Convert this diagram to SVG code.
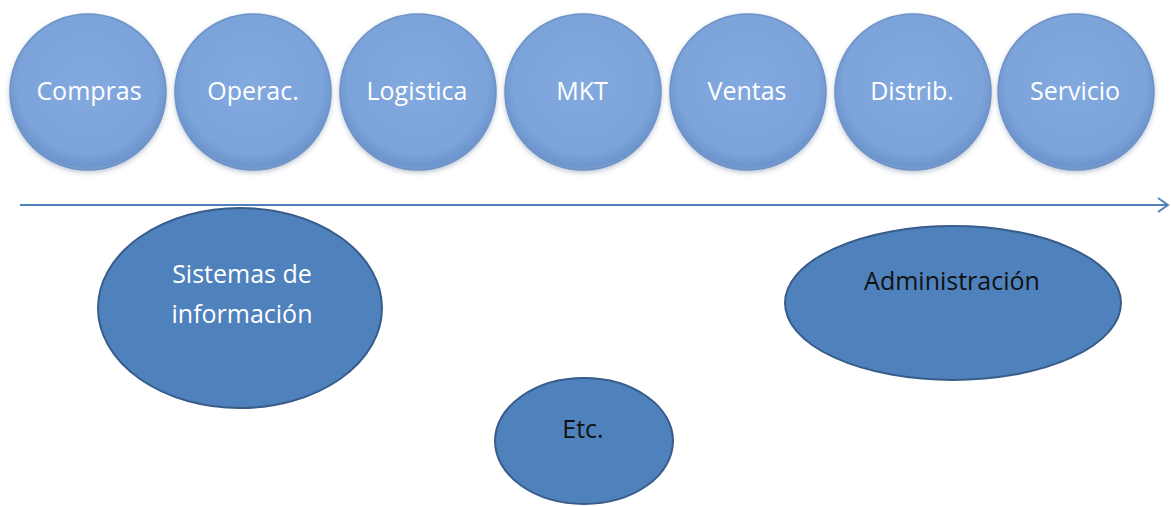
<svg xmlns="http://www.w3.org/2000/svg" width="1171" height="506" viewBox="0 0 1171 506">
<defs>
<radialGradient id="cg" cx="50%" cy="45%" r="55%">
<stop offset="0%" stop-color="#82aadf"/>
<stop offset="82%" stop-color="#7ba3da"/>
<stop offset="96%" stop-color="#6d95cd"/>
<stop offset="100%" stop-color="#7f9fcc"/>
</radialGradient>
<filter id="sh" x="-20%" y="-20%" width="140%" height="140%">
<feGaussianBlur in="SourceAlpha" stdDeviation="2.5"/>
<feOffset dy="2" result="b"/>
<feFlood flood-color="#8090a8" flood-opacity="0.5"/>
<feComposite in2="b" operator="in"/>
<feMerge><feMergeNode/><feMergeNode in="SourceGraphic"/></feMerge>
</filter>
<marker id="arr" markerWidth="14" markerHeight="16" refX="12" refY="8" orient="auto" markerUnits="userSpaceOnUse">
<path d="M2,1 L12,8 L2,15" fill="none" stroke="#4f81bd" stroke-width="2"/>
</marker>
</defs>
<style>
.c{fill:url(#cg);stroke:#6e93c6;stroke-width:1.5;filter:url(#sh)}
.e{fill:#4f81bd;stroke:#385d8a;stroke-width:2}
.ct{font-family:"Open Sans","Liberation Sans",sans-serif;font-size:25px;fill:#ffffff;text-anchor:middle}
.et{font-family:"Open Sans","Liberation Sans",sans-serif;font-size:25px;text-anchor:middle}
</style>
<rect width="1171" height="506" fill="#ffffff"/>
<g id="connectors">
<line x1="20" y1="205" x2="1168" y2="205" stroke="#4f81bd" stroke-width="2" marker-end="url(#arr)"/>
</g>
<g id="compras"><circle class="c" cx="88" cy="92" r="78"/><text class="ct" x="89" y="100">Compras</text></g>
<g id="operac"><circle class="c" cx="253" cy="92" r="78"/><text class="ct" x="253" y="100">Operac.</text></g>
<g id="logistica"><circle class="c" cx="418" cy="92" r="78"/><text class="ct" x="417" y="100">Logistica</text></g>
<g id="mkt"><circle class="c" cx="583" cy="92" r="78"/><text class="ct" x="582" y="100">MKT</text></g>
<g id="ventas"><circle class="c" cx="748" cy="92" r="78"/><text class="ct" x="747" y="100">Ventas</text></g>
<g id="distrib"><circle class="c" cx="913" cy="92" r="78"/><text class="ct" x="912" y="100">Distrib.</text></g>
<g id="servicio"><circle class="c" cx="1076" cy="92" r="78"/><text class="ct" x="1075" y="100">Servicio</text></g>
<g id="sistemas"><ellipse class="e" cx="240" cy="308" rx="142" ry="100"/><text class="et" x="242" y="283" fill="#ffffff">Sistemas de</text><text class="et" x="242" y="323" fill="#ffffff">información</text></g>
<g id="administracion"><ellipse class="e" cx="953" cy="303" rx="168" ry="77"/><text class="et" x="952" y="290" fill="#111111">Administración</text></g>
<g id="etc"><ellipse class="e" cx="584" cy="441" rx="89" ry="63"/><text class="et" x="583" y="438" fill="#111111">Etc.</text></g>
</svg>
